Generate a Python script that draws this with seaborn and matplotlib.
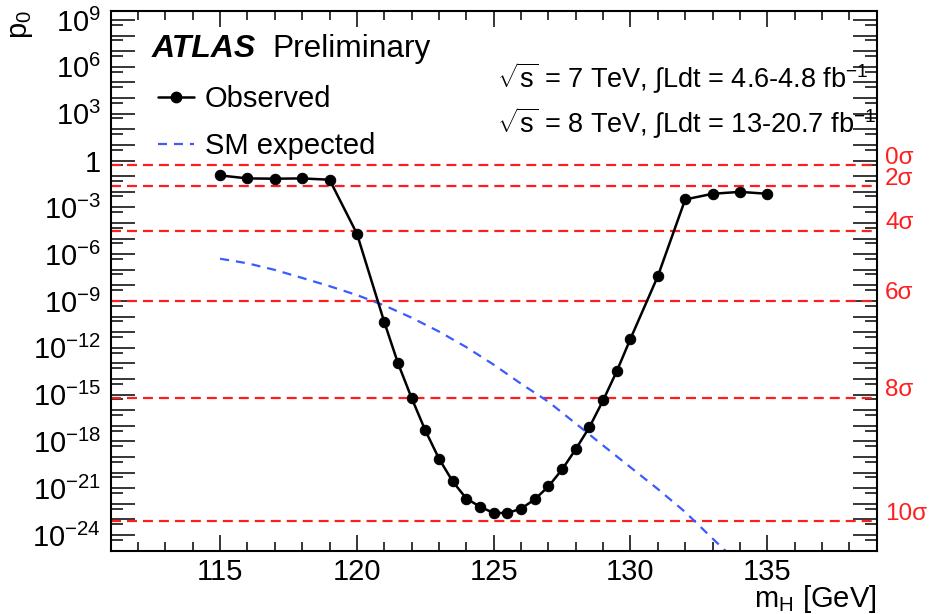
import numpy as np
import pandas as pd
import matplotlib
matplotlib.use("Agg")
import matplotlib.pyplot as plt
import seaborn as sns
from matplotlib.ticker import FixedLocator, FuncFormatter, MultipleLocator
from matplotlib.lines import Line2D
import matplotlib.transforms as mtransforms

# Local p0 scan versus Higgs mass
mass_obs = [115, 116, 117, 118, 119, 120, 121, 121.5, 122, 122.5, 123, 123.5,
            124, 124.5, 125, 125.5, 126, 126.5, 127, 127.5, 128, 128.5, 129,
            129.5, 130, 131, 132, 133, 134, 135]
p0_obs = [0.111, 0.0714, 0.0684, 0.0714, 0.059, 2.05e-5, 4.5e-11, 1.05e-13,
          6.0e-16, 5.1e-18, 7.9e-20, 2.75e-21, 2.2e-22, 6.6e-23, 2.6e-23,
          2.6e-23, 4.9e-23, 1.95e-22, 1.3e-21, 1.6e-20, 3.2e-19, 8.3e-18,
          4.3e-16, 3.2e-14, 3.8e-12, 3.9e-8, 3.2e-3, 7.4e-3, 9.8e-3, 7.4e-3]

mass_exp = [115, 116, 117, 118, 119, 120, 121, 122, 123, 124, 125, 126, 127,
            128, 129, 130, 131, 132, 133, 134]
p0_exp = [5.1e-7, 2.6e-7, 9.8e-8, 3.0e-8, 8.9e-9, 2.4e-9, 5.2e-10, 8.5e-11,
          1.1e-11, 1.1e-12, 8.3e-14, 5.0e-15, 3.5e-16, 1.4e-17, 5.5e-19,
          2.2e-20, 8.9e-22, 3.0e-23, 6.0e-25, 1.3e-26]

sigma_p0 = [0.5, 2.275e-2, 3.167e-5, 9.866e-10, 6.221e-16, 7.620e-24]
sigma_labels = ["0σ", "2σ", "4σ", "6σ", "8σ", "10σ"]

obs = pd.DataFrame({"mH": mass_obs, "p0": p0_obs})
exp = pd.DataFrame({"mH": mass_exp, "p0": p0_exp})

sns.set_style("ticks")
plt.rcParams.update({
    "font.family": ["Liberation Sans", "DejaVu Sans"],
    "mathtext.fontset": "custom",
    "mathtext.rm": "Liberation Sans",
    "mathtext.it": "Liberation Sans:italic",
    "mathtext.bf": "Liberation Sans:bold",
    "lines.scale_dashes": False,
    "axes.edgecolor": "black",
    "axes.linewidth": 1.5,
    "text.color": "black",
    "xtick.color": "black",
    "ytick.color": "black",
})

RED = "#ff1e1e"
BLUE = "#3a5cff"

fig = plt.figure(figsize=(9.32, 6.14), dpi=100)
ax = fig.add_axes([110.7 / 932, 1 - 550.7 / 614, 766 / 932, 540 / 614])
ax.set_yscale("log")
ax.set_xlim(111, 139)
ax.set_ylim(1e-25, 10 ** 9.6)

# significance reference lines
for p in sigma_p0:
    ax.axhline(p, color=RED, lw=1.6, linestyle=(0, (7.2, 4.3)), zorder=1)

sns.lineplot(data=exp, x="mH", y="p0", ax=ax, color=BLUE, lw=1.6,
             linestyle=(0, (6.5, 5.0)), zorder=2, legend=False)
sns.lineplot(data=obs, x="mH", y="p0", ax=ax, color="black", lw=1.8,
             marker="o", markersize=7.5, markeredgecolor="black",
             zorder=3, legend=False)

# axes ticks
ax.xaxis.set_major_locator(MultipleLocator(5))
ax.xaxis.set_minor_locator(MultipleLocator(1))
decades = [10.0 ** e for e in range(-25, 10)]
halves = [5 * 10.0 ** e for e in range(-26, 10)]
ax.yaxis.set_major_locator(FixedLocator(decades))
ax.yaxis.set_minor_locator(FixedLocator(halves))


def fmt(v, pos):
    e = int(round(np.log10(v)))
    if e % 3:
        return ""
    if e == 0:
        return "1"
    return r"$10^{%d}$" % e


ax.yaxis.set_major_formatter(FuncFormatter(fmt))
ax.tick_params(axis="both", which="both", direction="in", top=True,
               right=True, colors="black", labelsize=21)
ax.tick_params(axis="x", which="major", length=11.3, width=1.1, pad=5)
ax.tick_params(axis="x", which="minor", length=6.5, width=1.1)
ax.tick_params(axis="y", which="major", length=17, width=1.1, pad=7)
ax.tick_params(axis="y", which="minor", length=8.6, width=1.1)
ax.set_xlabel("")
ax.set_ylabel("")

# axis titles
ax.text(1.0, -0.1037, r"m$_{\mathrm{H}}$ [GeV]", transform=ax.transAxes,
        ha="right", va="baseline", fontsize=21)
fig.text(27 / 932, 1 - 10 / 614, r"p$_{0}$", rotation=90,
         rotation_mode="anchor", ha="right", va="baseline", fontsize=21)

# sigma labels on the right
trans = mtransforms.blended_transform_factory(ax.transAxes, ax.transData)
for p, lab in zip(sigma_p0, sigma_labels):
    ax.annotate(lab, xy=(1.0, p), xycoords=trans, xytext=(6, 1.2),
                textcoords="offset points", ha="left", va="baseline",
                fontsize=17.5, color=RED, annotation_clip=False)

# experiment labels
fig.text(152 / 932, 1 - 56.7 / 614, "ATLAS", fontsize=23,
         fontweight="bold", fontstyle="italic", ha="left", va="baseline")
fig.text(272 / 932, 1 - 56.7 / 614, "Preliminary", fontsize=22.8,
         ha="left", va="baseline")
fig.text(497 / 932, 1 - 88.3 / 614,
         r"$\sqrt{\mathrm{s}}$ = 7 TeV, ∫Ldt = 4.6-4.8 fb$^{-1}$",
         fontsize=19.5, ha="left", va="baseline")
fig.text(497 / 932, 1 - 133.3 / 614,
         r"$\sqrt{\mathrm{s}}$ = 8 TeV, ∫Ldt = 13-20.7 fb$^{-1}$",
         fontsize=19.5, ha="left", va="baseline")

# legend
handles = [
    Line2D([], [], color="black", lw=1.8, marker="o", markersize=7.5),
    Line2D([], [], color=BLUE, lw=1.6, linestyle=(0, (6.5, 5.0))),
]
ax.legend(handles, ["Observed", "SM expected"], loc="upper left",
          bbox_to_anchor=(158 / 932, 1 - 85 / 614),
          bbox_transform=fig.transFigure, frameon=False, fontsize=21,
          handlelength=1.25, handletextpad=0.35, borderpad=0,
          borderaxespad=0, labelspacing=0.65)

fig.savefig("out.png", dpi=100, facecolor="white")
